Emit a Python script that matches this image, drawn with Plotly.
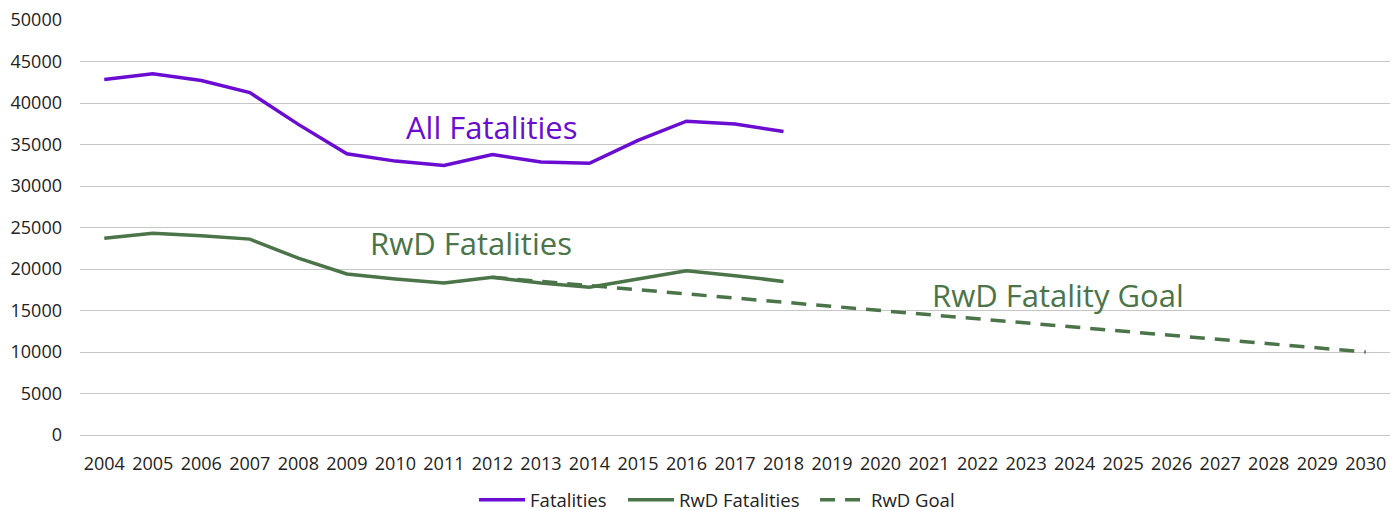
import plotly.graph_objects as go

years = [str(y) for y in range(2004, 2031)]
fatal_years = [str(y) for y in range(2004, 2019)]
fatalities = [42836, 43510, 42708, 41259, 37423, 33883, 32999, 32479, 33782, 32893, 32744, 35484, 37806, 37473, 36560]
rwd_fatalities = [23700, 24300, 24000, 23600, 21300, 19400, 18800, 18300, 19000, 18300, 17800, 18800, 19800, 19200, 18500]
goal_years = [str(y) for y in range(2012, 2031)]
rwd_goal = [19000, 18500, 18000, 17500, 17000, 16500, 16000, 15500, 15000, 14500, 14000, 13500, 13000, 12500, 12000, 11500, 11000, 10500, 10000]

purple = "#6A0CD2"
green = "#4B7449"
font_family = "Open Sans, DejaVu Sans, sans-serif"

fig = go.Figure()
fig.add_trace(go.Scatter(x=fatal_years, y=fatalities, mode="lines", name="Fatalities",
                         line=dict(color=purple, width=3.5), legend="legend"))
fig.add_trace(go.Scatter(x=fatal_years, y=rwd_fatalities, mode="lines", name="RwD Fatalities",
                         line=dict(color=green, width=3.5), legend="legend2"))
fig.add_trace(go.Scatter(x=goal_years, y=rwd_goal, mode="lines", name="RwD Goal",
                         line=dict(color=green, width=3.5, dash="15px,10px"), legend="legend3"))

fig.add_annotation(x=8, y=37100, text="All Fatalities", showarrow=False,
                   font=dict(color=purple, size=31, family=font_family))
fig.add_annotation(x=7.55, y=23100, text="RwD Fatalities", showarrow=False,
                   font=dict(color=green, size=31, family=font_family))
fig.add_annotation(x=19.65, y=16900, text="RwD Fatality Goal", showarrow=False,
                   font=dict(color=green, size=31, family=font_family))

leg_common = dict(orientation="h", xanchor="left", y=-0.157, yanchor="middle",
                  font=dict(size=18.5), itemwidth=46, bgcolor="rgba(0,0,0,0)")

fig.update_layout(
    width=1400, height=510,
    margin=dict(l=72, r=18, t=12, b=83, autoexpand=False),
    plot_bgcolor="white", paper_bgcolor="white",
    font=dict(family=font_family, size=18, color="#222222"),
    showlegend=True,
    legend=dict(x=0.3008, **leg_common),
    legend2=dict(x=0.4145, **leg_common),
    legend3=dict(x=0.5611, **leg_common),
    xaxis=dict(type="category", categoryorder="array", categoryarray=years,
               range=[-0.5, 26.5], showgrid=False, showline=False, ticks="",
               tickfont=dict(size=18), fixedrange=True, automargin=False,
               ticklabelstandoff=16),
    yaxis=dict(range=[0, 50000], dtick=5000, showgrid=True, gridcolor="#C6C6C6",
               gridwidth=1, zeroline=True, zerolinecolor="#C6C6C6", zerolinewidth=1,
               tickformat="d", tickfont=dict(size=18), ticks="", ticklen=0,
               ticklabelstandoff=17, automargin=False, ticklabeloverflow="allow"),
)

fig.write_html("out.html")
